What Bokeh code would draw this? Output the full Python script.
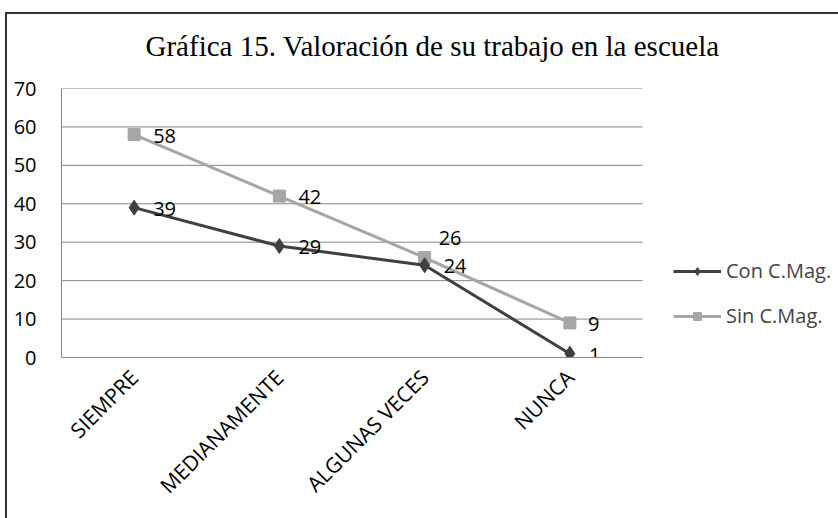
import math
from bokeh.plotting import figure
from bokeh.models import (Range1d, Legend, LegendItem, ColumnDataSource, Title,
                          FixedTicker, InlineStyleSheet)
from bokeh.core.properties import value
from bokeh.embed import file_html
from bokeh.resources import INLINE

# ---- data ----
categories = ["SIEMPRE", "MEDIANAMENTE", "ALGUNAS VECES", "NUNCA"]
con_cmag = [39, 29, 24, 1]
sin_cmag = [58, 42, 26, 9]
y_ticks = [0, 10, 20, 30, 40, 50, 60, 70]
series_names = ["Con C.Mag.", "Sin C.Mag."]
title_text = "Gráfica 15. Valoración de su trabajo en la escuela"

# label placement (screen pixels), style only
con_dx = [19, 19, 19, 19]
con_dy = [1, 1, 1, 1]
sin_dx = [19, 19, 14, 18]
sin_dy = [1, 1, -20, 1]

DARK = "#404040"
LIGHT = "#a6a6a6"
GRID = "#868686"
FONT = "Open Sans"

W, H = 838, 518
LEFT, TOP, PLOT_RIGHT, BOTTOM = 61, 88, 642, 357   # plot-area edges in px

n = len(categories)
xpos = [i + 0.5 for i in range(n)]          # category centres
src = ColumnDataSource(dict(
    x=xpos, con=con_cmag, sin=sin_cmag,
    con_lbl=[str(v) for v in con_cmag], sin_lbl=[str(v) for v in sin_cmag],
    con_dx=con_dx, con_dy=con_dy, sin_dx=sin_dx, sin_dy=sin_dy,
))

border_css = InlineStyleSheet(css="""
:host { position: relative; }
:host::after {
  content: ""; position: absolute; left: 5px; top: 12px; right: 0px; bottom: 0px;
  border-left: 2px solid #333333; border-top: 2px solid #333333;
  border-right: none; border-bottom: none;
  pointer-events: none; z-index: 10;
}
""")

# the frame reaches to the right edge so the legend (drawn inside it) is not clipped;
# the categories occupy only the plot-area part of it
x_end = n * (W - LEFT) / (PLOT_RIGHT - LEFT)
p = figure(x_range=Range1d(0, x_end), y_range=Range1d(0, 70),
           width=W, height=H, output_backend="svg", toolbar_location=None,
           min_border_left=LEFT, min_border_right=0, min_border_top=TOP,
           min_border_bottom=H - BOTTOM, outline_line_color=None,
           stylesheets=[border_css])

t = Title(text=title_text, align="left", text_font="Liberation Serif",
          text_font_size="29px", text_font_style="normal", text_color="#000000",
          offset=84, standoff=53)
p.add_layout(t, "above")

p.xgrid.grid_line_color = None
p.ygrid.grid_line_color = None
# horizontal gridlines limited to the category area
p.segment(x0=[0] * len(y_ticks), x1=[n] * len(y_ticks), y0=y_ticks, y1=y_ticks,
          line_color=GRID, line_width=1)

p.yaxis.ticker = FixedTicker(ticks=y_ticks)
p.yaxis.axis_line_color = GRID
p.yaxis.major_tick_line_color = None
p.yaxis.minor_tick_line_color = None
p.yaxis.major_label_standoff = 19
p.yaxis.major_label_text_font = FONT
p.yaxis.major_label_text_font_size = "20px"
p.yaxis.major_label_text_color = "#000000"

p.xaxis.ticker = FixedTicker(ticks=xpos)
p.xaxis.major_label_overrides = {x: c for x, c in zip(xpos, categories)}
p.xaxis.bounds = (0, n)
p.xaxis.axis_line_color = GRID
p.xaxis.major_tick_line_color = None
p.xaxis.minor_tick_line_color = None
p.xaxis.major_label_orientation = math.pi / 4
p.xaxis.major_label_standoff = 10
p.xaxis.major_label_text_font = FONT
p.xaxis.major_label_text_font_size = "21px"
p.xaxis.major_label_text_color = "#000000"

l_sin = p.line("x", "sin", source=src, line_color=LIGHT, line_width=3)
m_sin = p.scatter("x", "sin", source=src, marker="square", size=12,
                  fill_color=LIGHT, line_color=LIGHT)
l_con = p.line("x", "con", source=src, line_color=DARK, line_width=3)
m_con = p.scatter("x", "con", source=src, marker="diamond", size=15,
                  fill_color=DARK, line_color=DARK)

p.text("x", "con", text="con_lbl", source=src, x_offset="con_dx", y_offset="con_dy",
       text_font=value(FONT), text_font_size="20px", text_align="left",
       text_baseline="middle", text_color="#000000")
p.text("x", "sin", text="sin_lbl", source=src, x_offset="sin_dx", y_offset="sin_dy",
       text_font=value(FONT), text_font_size="20px", text_align="left",
       text_baseline="middle", text_color="#000000")

legend = Legend(items=[LegendItem(label=series_names[0], renderers=[l_con, m_con]),
                       LegendItem(label=series_names[1], renderers=[l_sin, m_sin])],
                location=(673 - LEFT, 28), orientation="vertical", glyph_width=48,
                glyph_height=20, label_height=20, spacing=18, padding=0, margin=0,
                border_line_color=None, background_fill_alpha=0,
                label_text_font=FONT, label_text_font_size="20px", label_standoff=5)
p.add_layout(legend)

open("out.html", "w").write(file_html(p, INLINE))
